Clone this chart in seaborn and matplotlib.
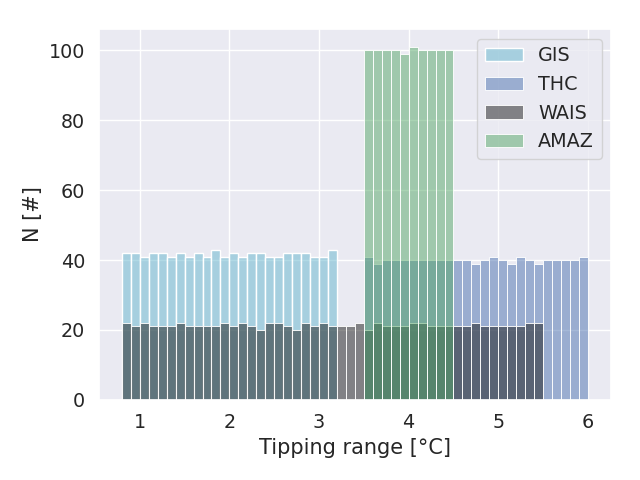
import numpy as np
import pandas as pd
import matplotlib
matplotlib.use("Agg")
import matplotlib.pyplot as plt
import seaborn as sns

sns.set_theme(font_scale=1.25)

binwidth = 0.1

# counts per 0.1 degC bin
gis_start = 0.8
gis_counts = [42, 42, 41, 42, 42, 41, 42, 41, 42, 41, 43, 41,
              42, 41, 42, 42, 41, 41, 42, 42, 42, 41, 41, 43]

thc_start = 3.5
thc_counts = [41, 39, 40, 40, 40, 40, 40, 40, 40, 40,
              40, 40, 39, 40, 41, 40, 39, 41, 40, 39,
              40, 40, 40, 40, 41]

wais_start = 0.8
wais_counts = [22, 21, 22, 21, 21, 21, 22, 21, 21, 21, 21, 22,
               21, 22, 21, 20, 22, 22, 21, 20, 22, 21, 22, 21,
               21, 21, 22,
               20, 22, 21, 21, 21, 22, 22, 21, 21, 21,
               21, 21, 22, 21, 21, 21, 21, 21, 22, 22]

amaz_start = 3.5
amaz_counts = [100, 100, 100, 100, 99, 101, 100, 100, 100, 100]

series = [
    ("GIS", gis_start, gis_counts, "c"),
    ("THC", thc_start, thc_counts, "b"),
    ("WAIS", wais_start, wais_counts, "k"),
    ("AMAZ", amaz_start, amaz_counts, "g"),
]

fig, ax = plt.subplots(figsize=(6.4, 4.8))
for name, start, counts, col in series:
    n = len(counts)
    centers = start + binwidth * (np.arange(n) + 0.5)
    df = pd.DataFrame({"x": centers, "n": counts})
    sns.histplot(data=df, x="x", weights="n", binwidth=binwidth,
                 binrange=(start, start + binwidth * n),
                 color=col, alpha=0.5, label=name, ax=ax)

ax.set_xlabel("Tipping range [°C]")
ax.set_ylabel("N [#]")
ax.legend(loc="upper right")
fig.subplots_adjust(left=0.154, right=0.955, top=0.939, bottom=0.167)
plt.savefig("out.png", dpi=100)
